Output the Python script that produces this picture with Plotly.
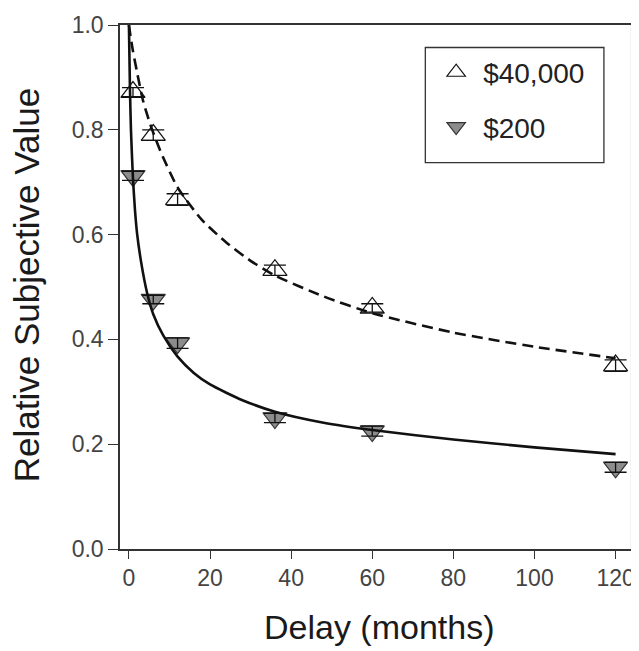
import plotly.graph_objects as go

# Observed data points (delay in months, relative subjective value)
delays = [1, 6, 12, 36, 60, 120]
value_40000 = [0.872, 0.790, 0.667, 0.532, 0.460, 0.350]
err_40000 = [0.0085, 0.010, 0.011, 0.0098, 0.008, 0.011]
value_200 = [0.712, 0.476, 0.393, 0.250, 0.225, 0.156]
err_200 = [0.0085, 0.008, 0.010, 0.009, 0.0095, 0.0095]

# Fitted curves
curve_40000_x = [0, 0.5, 1, 2, 3.5, 5.5, 8, 12, 18, 24, 30, 36, 48, 60, 80, 100, 120]
curve_40000_y = [1.0, 0.973, 0.95, 0.91, 0.855, 0.805, 0.755, 0.69, 0.628, 0.585,
                 0.55, 0.522, 0.482, 0.45, 0.413, 0.386, 0.364]
curve_200_x = [0, 0.25, 0.5, 1, 1.5, 2, 3, 4.5, 6, 8.5, 12, 16, 20, 28, 36, 48, 60, 80, 100, 120]
curve_200_y = [1.0, 0.88, 0.80, 0.707, 0.646, 0.603, 0.548, 0.488, 0.448, 0.407, 0.367,
               0.336, 0.314, 0.284, 0.262, 0.241, 0.227, 0.209, 0.194, 0.181]

x_ticks = [0, 20, 40, 60, 80, 100, 120]
y_ticks = [0.0, 0.2, 0.4, 0.6, 0.8, 1.0]
y_tick_text = ["0.0", "0.2", "0.4", "0.6", "0.8", "1.0"]

FONT = "Liberation Sans, Arial, Helvetica, sans-serif"

fig = go.Figure()

# markers
fig.add_trace(go.Scatter(
    x=delays, y=value_40000, mode="markers", name="$40,000",
    marker=dict(symbol="triangle-up", size=21, color="white",
                line=dict(color="#111111", width=1.2)),
    legendgroup="a",
))
fig.add_trace(go.Scatter(
    x=delays, y=value_200, mode="markers", name="$200",
    marker=dict(symbol="triangle-down", size=21, color="#8c8c8c",
                line=dict(color="#333333", width=1.2)),
    legendgroup="b",
))

# fitted curves
fig.add_trace(go.Scatter(
    x=curve_40000_x, y=curve_40000_y, mode="lines", showlegend=False,
    line=dict(color="#111111", width=2.6, dash="11px,6px", shape="spline", smoothing=0.6),
    hoverinfo="skip",
))
fig.add_trace(go.Scatter(
    x=curve_200_x, y=curve_200_y, mode="lines", showlegend=False,
    line=dict(color="#111111", width=2.6, shape="spline", smoothing=0.6),
    hoverinfo="skip",
))

# error bars on top
for vals, errs in [(value_40000, err_40000), (value_200, err_200)]:
    fig.add_trace(go.Scatter(
        x=delays, y=vals, mode="markers", showlegend=False,
        marker=dict(color="rgba(0,0,0,0)", size=1),
        error_y=dict(type="data", array=errs, visible=True,
                     color="#111111", thickness=1.3, width=11),
        hoverinfo="skip",
    ))

fig.update_layout(
    width=631, height=643,
    margin=dict(l=112, r=4, t=12, b=102),
    paper_bgcolor="white", plot_bgcolor="white",
    font=dict(family=FONT, color="#333333"),
    showlegend=True,
    legend=dict(
        x=0.605, y=0.957, xanchor="left", yanchor="top",
        bgcolor="rgba(0,0,0,0)", borderwidth=0,
        font=dict(size=28, color="#222222", family=FONT),
        itemwidth=44, traceorder="grouped", tracegroupgap=15,
    ),
    xaxis=dict(
        range=[-2.2, 123.8], tickmode="array", tickvals=x_ticks,
        ticks="outside", ticklen=8, tickwidth=1.3, tickcolor="#333333",
        showline=True, linecolor="#333333", linewidth=1.5, mirror=True,
        showgrid=False, zeroline=False, ticklabeloverflow="allow",
        tickfont=dict(size=23, color="#444444", family=FONT),
    ),
    yaxis=dict(
        range=[0, 1.0], tickmode="array", tickvals=y_ticks, ticktext=y_tick_text,
        ticks="outside", ticklen=10, tickwidth=1.3, tickcolor="#333333",
        showline=True, linecolor="#333333", linewidth=1.5,
        showgrid=False, zeroline=False, ticklabeloverflow="allow",
        tickfont=dict(size=23, color="#444444", family=FONT),
    ),
    annotations=[
        dict(text="Delay (months)", xref="paper", yref="paper", x=0.507, y=-0.1884,
             xanchor="center", yanchor="bottom", showarrow=False,
             font=dict(size=34, color="#1a1a1a", family=FONT)),
        dict(text="Relative Subjective Value", xref="paper", yref="paper", x=-0.1825, y=0.503,
             xanchor="center", yanchor="middle", showarrow=False, textangle=-90,
             font=dict(size=35, color="#1a1a1a", family=FONT)),
    ],
    shapes=[
        dict(type="line", xref="paper", yref="paper", x0=1, x1=1, y0=0, y1=1,
             line=dict(color="#e6e6e6", width=1)),
        dict(type="rect", xref="paper", yref="paper", x0=0.5975, x1=0.947,
             y0=0.7374, y1=0.9571, line=dict(color="#333333", width=1.3),
             fillcolor="rgba(0,0,0,0)"),
    ],
)

fig.write_html("out.html")
